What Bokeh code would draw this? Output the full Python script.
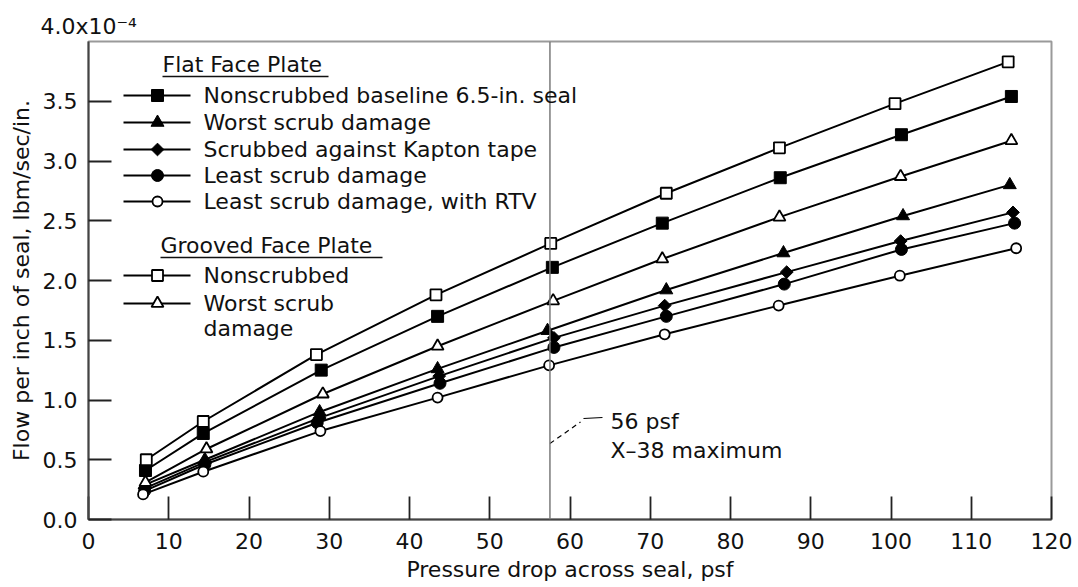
from bokeh.plotting import figure
from bokeh.models import Range1d, FixedTicker, Label, Span, NumeralTickFormatter
from bokeh.embed import file_html
from bokeh.resources import INLINE

# ---------------- data ----------------
x_ticks = [0, 10, 20, 30, 40, 50, 60, 70, 80, 90, 100, 110, 120]
x_tick_labels = ["0", "10", "20", "30", "40", "50", "60", "70", "80", "90", "100", "110", "120"]
y_ticks = [0.0, 0.5, 1.0, 1.5, 2.0, 2.5, 3.0, 3.5]
y_tick_labels = ["0.0", "0.5", "1.0", "1.5", "2.0", "2.5", "3.0", "3.5"]
y_scale_label = "4.0x10\u207b\u2074"

# Flat face plate
flat_base_x = [7.1, 14.3, 29.0, 43.5, 57.8, 71.5, 86.2, 101.3, 115.0]
flat_base_y = [0.41, 0.72, 1.25, 1.70, 2.11, 2.48, 2.86, 3.22, 3.54]
flat_worst_x = [7.0, 14.5, 28.8, 43.5, 57.2, 72.0, 86.6, 101.5, 114.8]
flat_worst_y = [0.29, 0.50, 0.90, 1.26, 1.58, 1.92, 2.23, 2.54, 2.80]
flat_kapton_x = [7.0, 14.5, 28.8, 43.7, 58.0, 71.8, 87.0, 101.2, 115.2]
flat_kapton_y = [0.26, 0.48, 0.85, 1.20, 1.52, 1.79, 2.07, 2.33, 2.57]
flat_least_x = [7.0, 14.5, 28.5, 43.8, 58.0, 72.0, 86.7, 101.3, 115.4]
flat_least_y = [0.24, 0.46, 0.81, 1.14, 1.44, 1.70, 1.97, 2.26, 2.48]
flat_rtv_x = [6.8, 14.3, 28.9, 43.5, 57.4, 71.8, 86.0, 101.1, 115.6]
flat_rtv_y = [0.21, 0.40, 0.74, 1.02, 1.29, 1.55, 1.79, 2.04, 2.27]
# Grooved face plate
groove_non_x = [7.2, 14.3, 28.4, 43.3, 57.6, 72.0, 86.1, 100.5, 114.6]
groove_non_y = [0.50, 0.82, 1.38, 1.88, 2.31, 2.73, 3.11, 3.48, 3.83]
groove_worst_x = [7.1, 14.7, 29.2, 43.5, 57.9, 71.5, 86.1, 101.2, 115.0]
groove_worst_y = [0.31, 0.59, 1.05, 1.45, 1.83, 2.18, 2.53, 2.87, 3.17]

flat_labels = ["Nonscrubbed baseline 6.5-in. seal", "Worst scrub damage",
               "Scrubbed against Kapton tape", "Least scrub damage",
               "Least scrub damage, with RTV"]
groove_labels = ["Nonscrubbed", "Worst scrub", "damage"]

limit_x = 57.5

FONT = "DejaVu Sans"
FS = "22px"
TXT = "#111111"

# ---------------- figure ----------------
p = figure(frame_width=963, frame_height=478,
           x_range=Range1d(0, 120), y_range=Range1d(0, 4.0),
           output_backend="svg", toolbar_location=None,
           min_border_left=88, min_border_right=27,
           min_border_top=41, min_border_bottom=66,
           background_fill_color="white", border_fill_color="white")
p.xgrid.visible = False
p.ygrid.visible = False
p.outline_line_color = "#9a9a9a"
p.outline_line_width = 2

# scale factor shown above the y axis
p.title.text = y_scale_label
p.title.align = "left"
p.title.offset = -48
p.title.standoff = 6
p.title.text_font = FONT
p.title.text_font_size = FS
p.title.text_font_style = "normal"
p.title.text_color = TXT

for ax in (p.xaxis[0], p.yaxis[0]):
    ax.major_tick_in = 23
    ax.major_tick_out = 0
    ax.minor_tick_in = 0
    ax.minor_tick_out = 0
    ax.axis_line_color = "#444444"
    ax.axis_line_width = 2
    ax.major_tick_line_color = "#222222"
    ax.major_tick_line_width = 1.8
    ax.major_label_text_font = FONT
    ax.major_label_text_font_size = FS
    ax.major_label_text_color = TXT
    ax.axis_label_text_font = FONT
    ax.axis_label_text_font_size = FS
    ax.axis_label_text_font_style = "normal"
    ax.axis_label_text_color = TXT

p.xaxis.ticker = FixedTicker(ticks=x_ticks)
p.xaxis.major_label_overrides = dict(zip(x_ticks, x_tick_labels))
p.xaxis.major_label_standoff = 13
p.xaxis.axis_label = "Pressure drop across seal, psf"
p.xaxis.axis_label_standoff = 5

p.yaxis.ticker = FixedTicker(ticks=y_ticks)
p.yaxis.formatter = NumeralTickFormatter(format="0.0")
p.yaxis.major_label_overrides = dict(zip(y_ticks, y_tick_labels))
p.yaxis.major_label_standoff = 11
p.yaxis.axis_label = "Flow per inch of seal, lbm/sec/in."
p.yaxis.axis_label_standoff = 6

# vertical limit line
p.add_layout(Span(location=limit_x, dimension="height", line_color="#7a7a7a", line_width=1.5))

# helpers: page pixel -> data (for annotation/legend layout only)
def dx(px):
    return (px - 88.0) / 963.0 * 120.0

def dy(py):
    return (519.0 - py) / 478.0 * 4.0

# ---------------- series ----------------
styles = [
    (flat_base_x, flat_base_y, dict(marker="square", size=12, fill_color="black", line_color="black", line_width=1)),
    (flat_worst_x, flat_worst_y, dict(marker="triangle", size=13, fill_color="black", line_color="black", line_width=1)),
    (flat_kapton_x, flat_kapton_y, dict(marker="square", size=9, angle=0.785398, fill_color="black", line_color="black", line_width=1)),
    (flat_least_x, flat_least_y, dict(marker="circle", size=12, fill_color="black", line_color="black", line_width=1)),
    (flat_rtv_x, flat_rtv_y, dict(marker="circle", size=10, fill_color="white", line_color="black", line_width=1.8)),
    (groove_non_x, groove_non_y, dict(marker="square", size=11, fill_color="white", line_color="black", line_width=1.8)),
    (groove_worst_x, groove_worst_y, dict(marker="triangle", size=12, fill_color="white", line_color="black", line_width=1.8)),
]
for xs, ys, st in styles:
    p.line(xs, ys, line_color="black", line_width=2)
for xs, ys, st in styles:
    p.scatter(xs, ys, **st)

# ---------------- legend (manual) ----------------
LX0, LX1, LXM, LT = 123, 190, 157, 203
flat_rows = [95, 122, 149, 175, 201]
groove_rows = [275, 303]

def add_text(text, left, cy):
    p.add_layout(Label(x=dx(left), y=dy(cy), text=text, text_font=FONT, text_font_size=FS,
                       text_color=TXT, text_baseline="middle", text_align="left"))

def legend_title(text, left, cy, width):
    add_text(text, left, cy)
    p.segment(x0=[dx(left)], y0=[dy(cy + 12)], x1=[dx(left + width)], y1=[dy(cy + 12)],
              line_color=TXT, line_width=1.6)

legend_title("Flat Face Plate", 162, 64, 166)
for i, cy in enumerate(flat_rows):
    st = styles[i][2]
    p.segment(x0=[dx(LX0)], y0=[dy(cy)], x1=[dx(LX1)], y1=[dy(cy)], line_color="black", line_width=2)
    p.scatter([dx(LXM)], [dy(cy)], **st)
    add_text(flat_labels[i], LT, cy)

legend_title("Grooved Face Plate", 160, 245, 222)
for j, cy in enumerate(groove_rows):
    st = styles[5 + j][2]
    p.segment(x0=[dx(LX0)], y0=[dy(cy)], x1=[dx(LX1)], y1=[dy(cy)], line_color="black", line_width=2)
    p.scatter([dx(LXM)], [dy(cy)], **st)
    add_text(groove_labels[j], LT, cy)
add_text(groove_labels[2], LT, 328)

# ---------------- annotation ----------------
p.line([limit_x, dx(580)], [dy(443), dy(421.5)], line_color="black", line_width=1.2, line_dash="5 4")
p.line([dx(583), dx(602)], [dy(418), dy(417)], line_color="black", line_width=1.2)
add_text("56 psf", 610, 421)
add_text("X\u201338 maximum", 610, 450)

open("out.html", "w").write(file_html(p, INLINE))
